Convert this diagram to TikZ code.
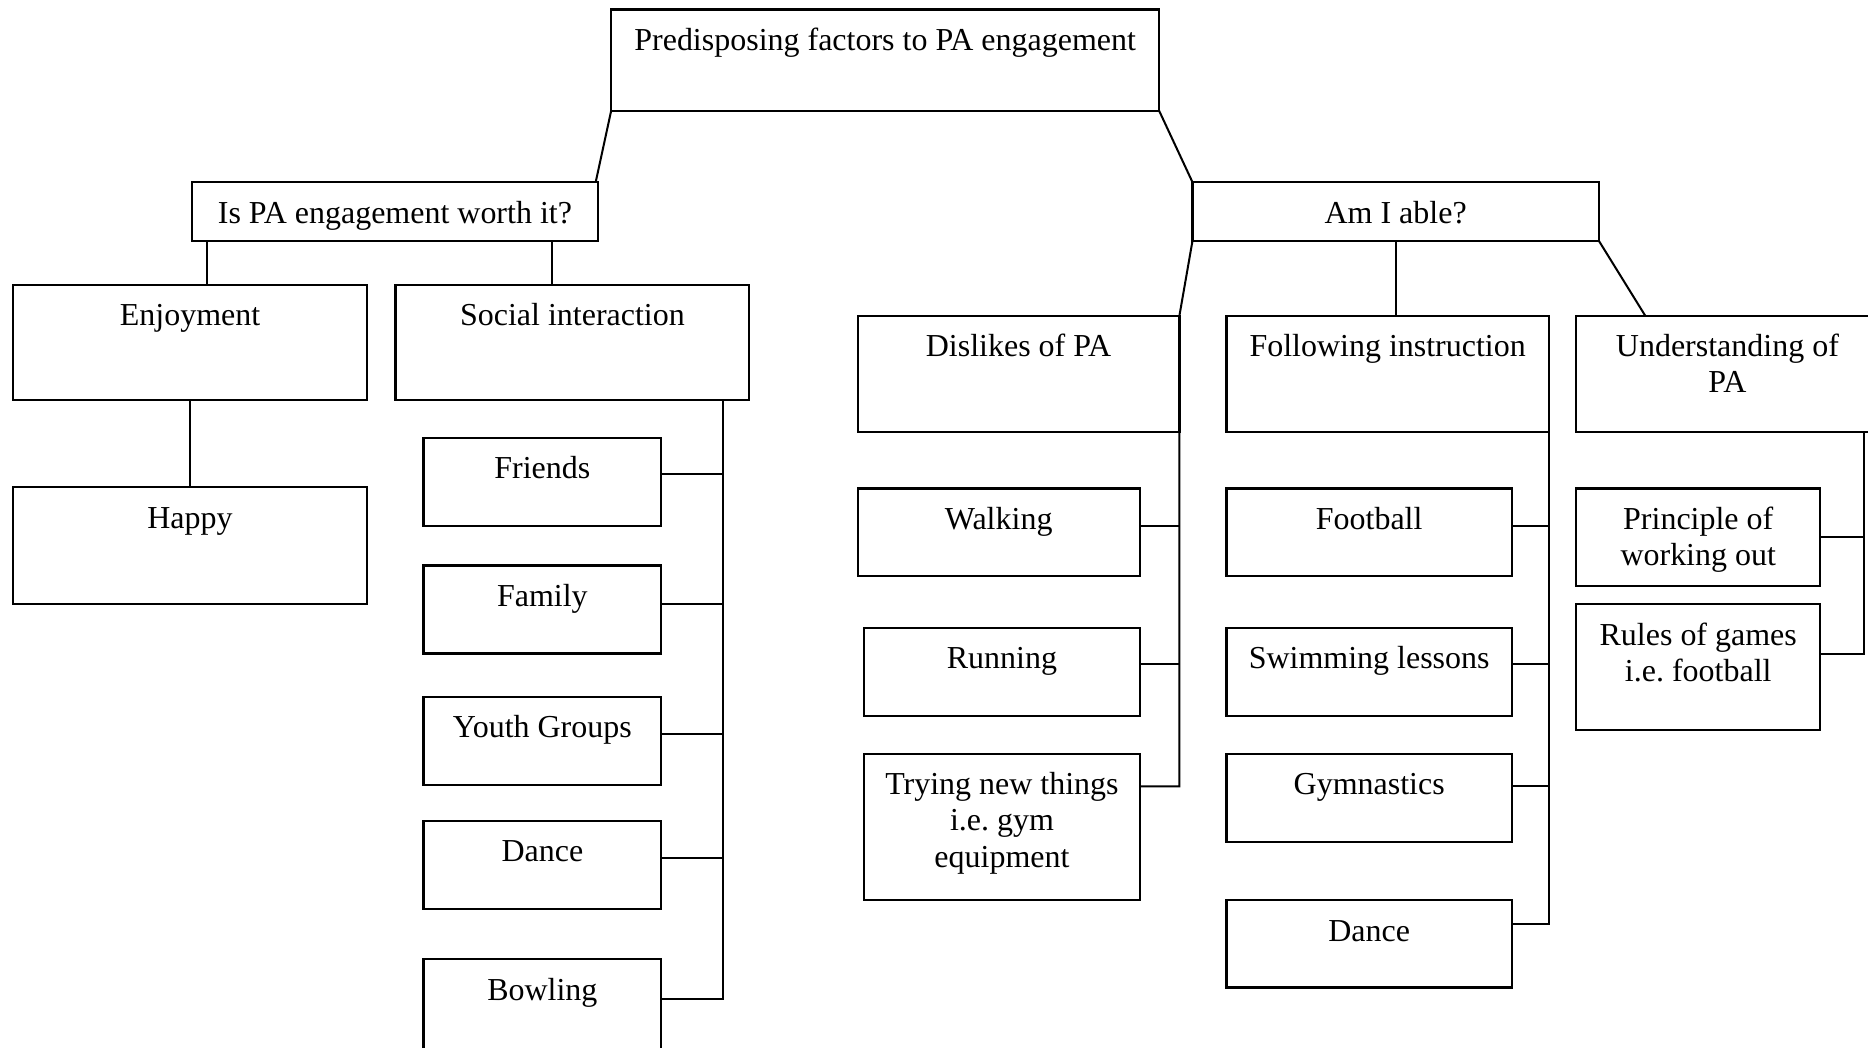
\documentclass[tikz,border=0pt]{standalone}
\usepackage{fontspec}
\setmainfont{Liberation Serif}
\usetikzlibrary{calc,fit}
\tikzset{
  box/.style={draw, line width=0.85pt, inner sep=0pt, outer sep=0pt, rectangle},
  txt/.style={anchor=north, inner sep=0pt, align=center, font=\fontsize{12}{13.6}\selectfont},
  conn/.style={draw, line width=0.75pt}
}
\newcommand\bx[6]{%
  \node[box, fit={(#2,#3) (#4,#5)}] (#1) {};
  \node[txt] (#1-t) at ($(#1.north)+(0,12.7)$) {\strut #6};
}
\begin{document}
\begin{tikzpicture}[x=0.447pt, y=-0.447pt]
\useasboundingbox (0,0) rectangle (1568,879);
\clip (0,0) rectangle (1568,879);
% boxes
\bx{top}{513}{8}{973}{93}{Predisposing factors to PA engagement}
\bx{ispa}{161}{153}{502}{202}{Is PA engagement worth it?}
\bx{ami}{1001}{153}{1342}{202}{Am I able?}
\bx{enjoy}{11}{239}{308}{336}{Enjoyment}
\bx{social}{332}{239}{629}{336}{Social interaction}
\bx{happy}{11}{409}{308}{507}{Happy}
\bx{friends}{355.5}{367.6}{555}{441.5}{Friends}
\bx{family}{355.5}{474.6}{555}{548.6}{Family}
\bx{youth}{355.5}{585}{555}{659}{Youth Groups}
\bx{dance}{355.5}{689}{555}{763}{Dance}
\bx{bowling}{355.5}{805}{555}{895}{Bowling}
\bx{dislikes}{720}{265}{990}{362.7}{Dislikes of PA}
\bx{follow}{1029.6}{265}{1300}{362.7}{Following instruction}
\bx{under}{1323}{265}{1577}{362.7}{Understanding of\\PA}
\bx{walking}{720}{410}{956.6}{483.5}{Walking}
\bx{running}{725.5}{527}{956.6}{601}{Running}
\bx{trying}{725.5}{632.6}{956.6}{755.5}{Trying new things\\i.e.\ gym\\equipment}
\bx{football}{1029.6}{410}{1269}{483.5}{Football}
\bx{swim}{1029.6}{527}{1269}{601}{Swimming lessons}
\bx{gym}{1029.6}{632.6}{1269}{707}{Gymnastics}
\bx{dancetwo}{1029.6}{755.5}{1269}{829}{Dance}
\bx{principle}{1323}{410}{1528}{491.6}{Principle of\\working out}
\bx{rules}{1323}{507}{1528}{613}{Rules of games\\i.e.\ football}
% top level connectors
\draw[conn] (top.south west) -- ($(ispa.north east)+(-2,0)$);
\draw[conn] (top.south east) -- (ami.north west);
% left branch
\draw[conn] ($(enjoy.north)+(14.5,0)$) coordinate (e1) -- (e1 |- ispa.south);
\draw[conn] ($(social.north)+(-17.3,0)$) coordinate (s1) -- (s1 |- ispa.south);
\draw[conn] (enjoy.south) -- (happy.north);
\coordinate (sb) at ($(social.south east)+(-22,0)$);
\coordinate (f1) at ($(friends.north east)+(0,30.4)$);
\coordinate (f2) at ($(family.north east)+(0,32)$);
\coordinate (f3) at ($(youth.north east)+(0,31)$);
\coordinate (f4) at ($(dance.north east)+(0,31.5)$);
\coordinate (f5) at ($(bowling.north east)+(0,33.5)$);
\draw[conn] (sb) -- (sb |- f5) -- (f5);
\draw[conn] (f1) -- (f1 -| sb);
\draw[conn] (f2) -- (f2 -| sb);
\draw[conn] (f3) -- (f3 -| sb);
\draw[conn] (f4) -- (f4 -| sb);
% right branch: dislikes
\coordinate (w1) at ($(walking.north east)+(0,31.5)$);
\coordinate (w2) at ($(running.north east)+(0,30.4)$);
\coordinate (w3) at ($(trying.north east)+(0,27.4)$);
\draw[conn] (ami.south west) -- (dislikes.north east) -- (dislikes.north east |- w3) -- (w3);
\draw[conn] (w1) -- (w1 -| dislikes.east);
\draw[conn] (w2) -- (w2 -| dislikes.east);
% following instruction
\draw[conn] (ami.south) -- (ami.south |- follow.north);
\coordinate (g1) at ($(football.north east)+(0,31.5)$);
\coordinate (g2) at ($(swim.north east)+(0,30.4)$);
\coordinate (g3) at ($(gym.north east)+(0,27.4)$);
\coordinate (g4) at ($(dancetwo.north east)+(0,20)$);
\draw[conn] (follow.south east) -- (follow.south east |- g4) -- (g4);
\draw[conn] (g1) -- (g1 -| follow.east);
\draw[conn] (g2) -- (g2 -| follow.east);
\draw[conn] (g3) -- (g3 -| follow.east);
% understanding
\draw[conn] (ami.south east) -- ($(under.north west)+(58,0)$);
\coordinate (ub) at ($(under.south west)+(242,0)$);
\coordinate (u1) at ($(principle.north east)+(0,40.5)$);
\coordinate (u2) at ($(rules.north east)+(0,42)$);
\draw[conn] (ub) -- (ub |- u2) -- (u2);
\draw[conn] (u1) -- (u1 -| ub);
\end{tikzpicture}
\end{document}
